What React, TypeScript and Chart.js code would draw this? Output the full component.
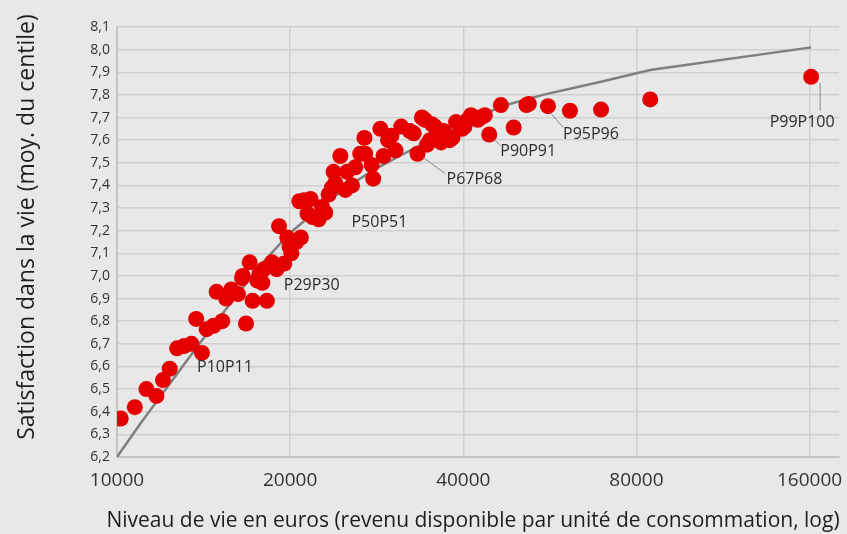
import React, { useEffect, useRef } from 'react';
import { Chart, registerables } from 'chart.js';

Chart.register(...registerables);

// Axis ticks
const xTickValues = [10000, 20000, 40000, 80000, 160000];

// Centile mean income (euros) and mean life satisfaction, P0P1 ... P99P100
const centileIncome = [
  10150, 10740, 11250, 11710, 12020, 12350, 12720, 13080, 13470, 13730,
  14050, 14320, 14720, 14900, 15240, 15480, 15800, 16230, 16500, 16540,
  16760, 17010, 17210, 17540, 17700, 17890, 18010, 18220, 18600, 18950,
  19130, 19530, 19770, 19950, 20100, 20500, 20750, 20880, 21150, 21440,
  21700, 21880, 22420, 22720, 23020, 23330, 23640, 23800, 23960, 24450,
  24950, 25120, 25620, 25960, 26480, 26930, 27010, 27710, 27890, 28700,
  29070, 29600, 30000, 30500, 31200, 32300, 32800, 33300, 33900, 34300,
  34600, 35000, 35300, 35700, 36200, 36600, 36960, 37300, 37870, 38300,
  38850, 39300, 39800, 40200, 40700, 41250, 41800, 42400, 42900, 43600,
  44380, 46500, 48940, 51500, 52000, 56140, 61300, 69430, 84540, 161000,
];
const centileSatisfaction = [
  6.37, 6.42, 6.50, 6.47, 6.54, 6.59, 6.68, 6.69, 6.70, 6.81,
  6.66, 6.765, 6.78, 6.93, 6.80, 6.90, 6.94, 6.92, 6.99, 7.00,
  6.79, 7.06, 6.89, 6.98, 7.01, 6.97, 7.03, 6.89, 7.06, 7.03,
  7.22, 7.055, 7.17, 7.13, 7.10, 7.15, 7.33, 7.17, 7.335, 7.275,
  7.34, 7.26, 7.25, 7.305, 7.28, 7.36, 7.39, 7.46, 7.41, 7.53,
  7.38, 7.46, 7.40, 7.48, 7.54, 7.61, 7.54, 7.49, 7.43, 7.65,
  7.53, 7.60, 7.62, 7.555, 7.66, 7.64, 7.63, 7.54, 7.70, 7.69,
  7.58, 7.60, 7.67, 7.66, 7.60, 7.59, 7.64, 7.62, 7.60, 7.61,
  7.68, 7.67, 7.65, 7.66, 7.69, 7.71, 7.70, 7.69, 7.70, 7.71,
  7.625, 7.755, 7.656, 7.755, 7.76, 7.75, 7.73, 7.735, 7.78, 7.88,
];

// Fitted curve (log income)
const fitIncome = [10000, 11000, 12000, 13000, 14000, 15000, 16000, 17500, 20000, 22500, 25000, 28000, 31000, 35000, 40000, 46600, 55000, 70000, 84500, 161000];
const fitSatisfaction = [6.20, 6.35, 6.48, 6.60, 6.71, 6.81, 6.90, 7.03, 7.19, 7.30, 7.39, 7.47, 7.53, 7.60, 7.67, 7.75, 7.80, 7.86, 7.91, 8.01];

// Labelled centiles
const labelledCentiles = [10, 29, 50, 67, 90, 95, 99];

const centileNames = centileIncome.map((_, i) => `P${i}P${i + 1}`);

const FONT = '"Open Sans", "Noto Sans", sans-serif';

// label placement relative to the point
const labelPlacement: Record<number, { dx: number; dy: number; leader?: [number, number, number, number] }> = {
  10: { dx: 23, dy: 15 },
  29: { dx: 35, dy: 16 },
  50: { dx: 34, dy: 32 },
  67: { dx: 57, dy: 26, leader: [6, 4, 28, 20] },
  90: { dx: 39, dy: 17, leader: [5, 5, 11, 11] },
  95: { dx: 43, dy: 28, leader: [2, 6, 15, 21] },
  99: { dx: -9, dy: 46, leader: [9, 6, 9, 34] },
};

const labelPlugin = {
  id: 'centileLabels',
  afterDatasetsDraw(chart: any) {
    const meta = chart.getDatasetMeta(0);
    const ctx = chart.ctx;
    ctx.save();
    ctx.font = `16px ${FONT}`;
    ctx.fillStyle = '#2b2b2b';
    ctx.textAlign = 'center';
    ctx.textBaseline = 'middle';
    ctx.strokeStyle = '#8a8a8a';
    ctx.lineWidth = 1;
    labelledCentiles.forEach((i) => {
      const el = meta.data[i];
      if (!el) return;
      const p = labelPlacement[i];
      if (p.leader) {
        ctx.beginPath();
        ctx.moveTo(el.x + p.leader[0], el.y + p.leader[1]);
        ctx.lineTo(el.x + p.leader[2], el.y + p.leader[3]);
        ctx.stroke();
      }
      ctx.fillText(centileNames[i], el.x + p.dx, el.y + p.dy);
    });
    ctx.restore();
  },
};

const titlePlugin = {
  id: 'axisTitles',
  afterDraw(chart: any) {
    const ctx = chart.ctx;
    ctx.save();
    ctx.fillStyle = '#1e1e1e';
    ctx.textAlign = 'center';
    ctx.textBaseline = 'middle';
    ctx.font = `21px ${FONT}`;
    ctx.fillText('Niveau de vie en euros (revenu disponible par unité de consommation, log)', 473, 521);
    ctx.font = `23px ${FONT}`;
    ctx.translate(27, 227);
    ctx.rotate(-Math.PI / 2);
    ctx.fillText('Satisfaction dans la vie (moy. du centile)', 0, 0);
    ctx.restore();
  },
};

export default function App() {
  const ref = useRef<HTMLCanvasElement | null>(null);

  useEffect(() => {
    if (!ref.current) return;
    const chart = new Chart(ref.current, {
      type: 'scatter',
      data: {
        datasets: [
          {
            label: 'Centiles',
            data: centileIncome.map((x, i) => ({ x, y: centileSatisfaction[i] })),
            backgroundColor: '#e50000',
            borderWidth: 0,
            pointRadius: 8,
            pointHoverRadius: 8,
          },
          {
            label: 'Ajustement',
            data: fitIncome.map((x, i) => ({ x, y: fitSatisfaction[i] })),
            showLine: true,
            borderColor: '#7f7f7f',
            borderWidth: 2.5,
            pointRadius: 0,
            fill: false,
            tension: 0,
          } as any,
        ],
      },
      options: {
        responsive: false,
        animation: false,
        events: [],
        layout: { padding: { top: 27, right: 5, left: 0, bottom: 0 } },
        plugins: {
          legend: { display: false },
          tooltip: { enabled: false },
        },
        scales: {
          x: {
            type: 'logarithmic',
            min: 10000,
            max: 180000,
            afterBuildTicks: (scale: any) => {
              scale.ticks = xTickValues.map((v) => ({ value: v, major: true }));
            },
            afterFit: (scale: any) => {
              scale.height = 77;
              scale.paddingLeft = 0;
              scale.paddingRight = 0;
            },
            ticks: {
              autoSkip: false,
              maxRotation: 0,
              padding: 12,
              color: '#333333',
              font: { family: FONT, size: 19 },
              callback: (v: any) => String(v),
            },
            grid: { color: '#cfcfcf', lineWidth: 1.5, drawTicks: false },
            border: { color: '#c4c4c4', width: 2 },
          },
          y: {
            min: 6.2,
            max: 8.1,
            afterFit: (scale: any) => {
              scale.width = 117;
              scale.paddingTop = 0;
              scale.paddingBottom = 0;
            },
            ticks: {
              stepSize: 0.1,
              padding: 7,
              color: '#333333',
              font: { family: FONT, size: 14 },
              callback: (v: any) => Number(v).toFixed(1).replace('.', ','),
            },
            grid: { color: '#cfcfcf', lineWidth: 1.5, drawTicks: false },
            border: { color: '#c4c4c4', width: 2 },
          },
        },
      },
      plugins: [labelPlugin, titlePlugin],
    });
    return () => chart.destroy();
  }, []);

  return (
    <div style={{ position: 'fixed', left: 0, top: 0, width: 847, height: 534, background: '#e8e8e8' }}>
      <canvas ref={ref} width={847} height={534} style={{ display: 'block' }} />
    </div>
  );
}
